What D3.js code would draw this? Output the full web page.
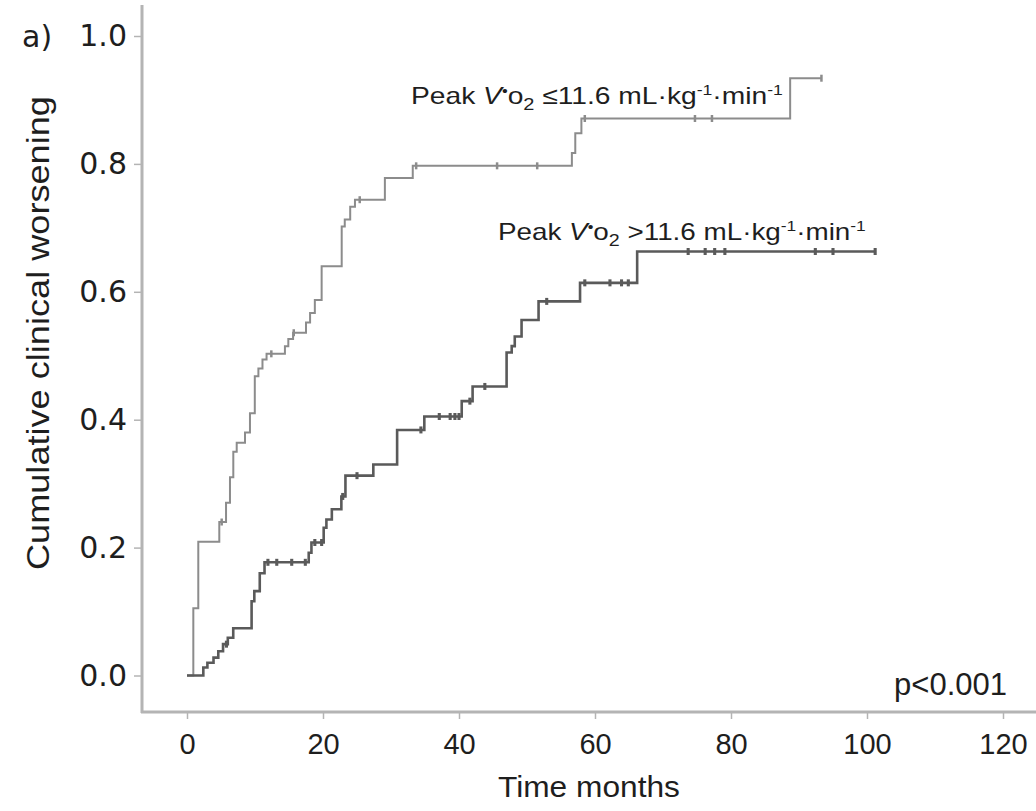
<!DOCTYPE html>
<html>
<head>
<meta charset="utf-8">
<script src="https://cdn.jsdelivr.net/npm/d3@7"></script>
<style>
  body { margin: 0; background: #fff; }
  text { fill: #1e1e1e; }
</style>
</head>
<body>
<svg id="chart" width="1036" height="811"></svg>
<script>
// cumulative incidence, peak VO2 <= 11.6 (upper curve)
const lowT = [0, 0.93, 1.66, 4.75, 5.74, 6.32, 6.81, 7.31, 8.53, 9.26, 9.97, 10.5, 11.1, 11.7, 14.4, 14.9, 15.6, 17.5, 18.1, 18.8, 19.8, 22.75, 23.2, 24.0, 24.7, 29.1, 33.2, 56.6, 57.1, 58.0, 88.7, 93.3];
const lowP = [0, 0.105, 0.209, 0.240, 0.270, 0.310, 0.350, 0.364, 0.380, 0.410, 0.468, 0.480, 0.494, 0.503, 0.515, 0.526, 0.536, 0.552, 0.567, 0.587, 0.640, 0.702, 0.713, 0.733, 0.744, 0.778, 0.797, 0.817, 0.848, 0.871, 0.934, 0.934];
const lowCensor = [5.1, 12.4, 15.7, 25.4, 33.7, 45.6, 51.5, 58.5, 74.7, 77.2, 93.3];

// peak VO2 > 11.6 (lower curve)
const highT = [0, 2.4, 3.0, 3.9, 4.6, 5.3, 6.0, 6.8, 9.5, 9.9, 10.7, 11.4, 17.9, 18.3, 20.1, 20.5, 21.3, 22.7, 23.3, 27.4, 30.9, 34.9, 40.4, 42.0, 47.0, 47.75, 48.2, 49.2, 51.7, 57.8, 66.2, 101.2];
const highP = [0, 0.0125, 0.020, 0.028, 0.038, 0.049, 0.059, 0.074, 0.116, 0.132, 0.160, 0.177, 0.192, 0.208, 0.231, 0.244, 0.260, 0.280, 0.3125, 0.330, 0.384, 0.405, 0.429, 0.452, 0.505, 0.515, 0.530, 0.556, 0.585, 0.614, 0.663, 0.663];
const highCensor = [5.8, 11.9, 13.2, 15.4, 17.4, 18.8, 19.8, 22.9, 25.0, 34.4, 37.1, 38.7, 39.4, 40.0, 41.6, 43.8, 52.9, 58.5, 62.2, 63.9, 64.9, 73.7, 76.2, 77.6, 79.1, 92.4, 95.0, 101.2];

const xTicks = [0, 20, 40, 60, 80, 100, 120];
const yTicks = [0, 0.2, 0.4, 0.6, 0.8, 1.0];

const svg = d3.select("#chart");
const x = d3.scaleLinear().domain([0, 120]).range([187, 1003]);
const y = d3.scaleLinear().domain([0, 1]).range([675.5, 36]);

const axisCol = "#b4b4b4";

// stretch a text horizontally to a given width, keeping its left edge
function fitText(t, w) {
  const b = t.node().getBBox();
  const ax = b.x;
  t.attr("transform", `translate(${ax},0) scale(${w / b.width},1) translate(${-ax},0)`);
}

// axes
const gx = svg.append("g").attr("transform", "translate(0,712)")
  .call(d3.axisBottom(x).tickValues(xTicks).tickSize(7).tickSizeOuter(0).tickPadding(14));
gx.select(".domain").remove();
gx.selectAll("line").attr("stroke", axisCol).attr("stroke-width", 1.5);
gx.selectAll("text").attr("font-family", "Liberation Sans, Arial, sans-serif").attr("font-size", 29).style("fill", "#1e1e1e");

const gy = svg.append("g").attr("transform", "translate(142,0)")
  .call(d3.axisLeft(y).tickValues(yTicks).tickFormat(d3.format(".1f")).tickSize(8).tickSizeOuter(0).tickPadding(7));
gy.select(".domain").remove();
gy.selectAll("line").attr("stroke", axisCol).attr("stroke-width", 1.5);
gy.selectAll("text").attr("font-family", "DejaVu Sans, sans-serif").attr("font-size", 30).style("fill", "#1e1e1e");

svg.append("line").attr("x1", 142).attr("x2", 142).attr("y1", 5).attr("y2", 713)
  .attr("stroke", axisCol).attr("stroke-width", 3);
svg.append("line").attr("x1", 141).attr("x2", 1036).attr("y1", 712).attr("y2", 712)
  .attr("stroke", axisCol).attr("stroke-width", 3);

// curves
const line = d3.line().x(d => x(d[0])).y(d => y(d[1])).curve(d3.curveStepAfter);

function drawCurve(ts, ps, cens, col, w) {
  const pts = ts.map((t, i) => [t, ps[i]]);
  svg.append("path").datum(pts).attr("fill", "none").attr("stroke", col)
    .attr("stroke-width", w).attr("d", line);
  const bis = d3.bisector(d => d).right;
  svg.append("g").selectAll("line").data(cens).join("line")
    .attr("x1", d => x(d)).attr("x2", d => x(d))
    .attr("y1", d => y(ps[bis(ts, d) - 1]) - 3.5)
    .attr("y2", d => y(ps[bis(ts, d) - 1]) + 3.5)
    .attr("stroke", col).attr("stroke-width", w + 0.5);
}

drawCurve(lowT, lowP, lowCensor, "#8c8c8c", 2);
drawCurve(highT, highP, highCensor, "#5a5a5a", 2.6);

// labels
function vo2Label(xp, yp, sign, w) {
  const t = svg.append("text").attr("x", xp).attr("y", yp)
    .attr("font-family", "Liberation Sans, Arial, sans-serif").attr("font-size", 24);
  t.append("tspan").text("Peak ");
  t.append("tspan").attr("font-style", "italic").text("V");
  t.append("tspan").attr("dy", -8).attr("font-size", 14).text("\u2022");
  t.append("tspan").attr("dy", 8).text("o");
  t.append("tspan").attr("dy", 6).attr("font-size", 17).text("2");
  t.append("tspan").attr("dy", -6).text(" " + sign + "11.6 mL\u00b7kg");
  t.append("tspan").attr("dy", -9).attr("font-size", 15).text("-1");
  t.append("tspan").attr("dy", 9).text("\u00b7min");
  t.append("tspan").attr("dy", -9).attr("font-size", 15).text("-1");
  fitText(t, w);
}
vo2Label(411, 104, "\u2264", 372);
vo2Label(498, 240, ">", 368);

svg.append("text").attr("x", 1007).attr("y", 695).attr("text-anchor", "end")
  .attr("font-family", "Liberation Sans, Arial, sans-serif").attr("font-size", 31).text("p<0.001");

svg.append("text").attr("x", 22).attr("y", 47)
  .attr("font-family", "DejaVu Sans, sans-serif").attr("font-size", 30).text("a)");

const xl = svg.append("text").attr("x", 498).attr("y", 797)
  .attr("font-family", "Liberation Sans, Arial, sans-serif").attr("font-size", 30).text("Time months");
fitText(xl, 182);

const yl = svg.append("g").attr("transform", "translate(49,333) rotate(-90)");
const ylt = yl.append("text").attr("x", -237).attr("y", 0)
  .attr("font-family", "Liberation Sans, Arial, sans-serif").attr("font-size", 31).text("Cumulative clinical worsening");
fitText(ylt, 474);
</script>
</body>
</html>
